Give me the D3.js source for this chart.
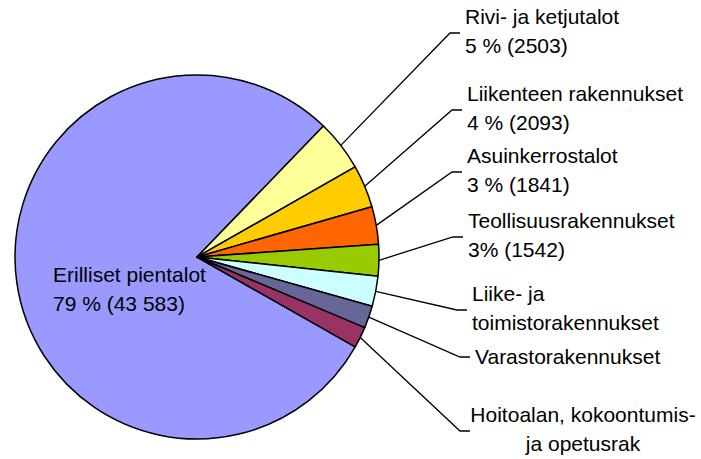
<!DOCTYPE html>
<html>
<head>
<meta charset="utf-8">
<script src="https://cdn.jsdelivr.net/npm/d3@7"></script>
<style>
    body { margin: 0; background: #fff; }
    svg text { font-family: "Liberation Sans", Arial, sans-serif; font-size: 21px; fill: #000; }
</style>
</head>
<body>
<svg id="chart" width="701" height="459"></svg>
<script>
const categories = [
    'Erilliset pientalot',
    'Rivi- ja ketjutalot',
    'Liikenteen rakennukset',
    'Asuinkerrostalot',
    'Teollisuusrakennukset',
    'Liike- ja toimistorakennukset',
    'Varastorakennukset',
    'Hoitoalan, kokoontumis- ja opetusrak'
];

// building counts (last three)
const counts = [43583, 2503, 2093, 1841, 1542, 1480, 1090, 1040];

const labelLines = [
    ['Erilliset pientalot', '79 % (43 583)'],
    ['Rivi- ja ketjutalot', '5 % (2503)'],
    ['Liikenteen rakennukset', '4 % (2093)'],
    ['Asuinkerrostalot', '3 % (1841)'],
    ['Teollisuusrakennukset', '3% (1542)'],
    ['Liike- ja', 'toimistorakennukset'],
    ['Varastorakennukset'],
    ['Hoitoalan, kokoontumis-', 'ja opetusrak']
];

const colors = ['#9999FF', '#FFFF99', '#FFCC00', '#FF6600', '#99CC00', '#CCFFFF', '#666699', '#993366'];

// label placement (x of text, y of leader elbow)
const labelPos = [
    null,
    { x: 465, y: 33 },
    { x: 467, y: 110 },
    { x: 467, y: 172 },
    { x: 468, y: 237 },
    { x: 472, y: 310 },
    { x: 475, y: 357 },
    { x: 475, y: 431, center: 583 }
];

const cx = 197, cy = 257, radius = 182;
const lineGap = 29;

const total = d3.sum(counts);
// small slices begin at ~44 degrees clockwise from 12 o'clock
const a0 = 44 * Math.PI / 180 - 2 * Math.PI * counts[0] / total;

const pie = d3.pie()
    .sort(null)
    .startAngle(a0)
    .endAngle(a0 + 2 * Math.PI)
    .value(d => d);

const arc = d3.arc().innerRadius(0).outerRadius(radius);
const edgeArc = d3.arc().innerRadius(radius).outerRadius(radius);

const svg = d3.select('#chart');
const g = svg.append('g').attr('transform', `translate(${cx},${cy})`);

const slices = pie(counts);

g.selectAll('path.slice')
    .data(slices)
    .enter().append('path')
    .attr('class', 'slice')
    .attr('d', arc)
    .style('fill', (d, i) => colors[i])
    .style('stroke', '#000')
    .style('stroke-width', 1.5)
    .style('stroke-linejoin', 'round');

// leader lines
slices.forEach((d, i) => {
    const p = labelPos[i];
    if (!p) return;
    const [sx, sy] = edgeArc.centroid(d);
    const pts = [
        [sx + cx, sy + cy],
        [p.x - 15, p.y],
        [p.x - 5, p.y]
    ];
    svg.append('path')
        .attr('d', d3.line()(pts))
        .style('fill', 'none')
        .style('stroke', '#000')
        .style('stroke-width', 1.3);
});

// labels
slices.forEach((d, i) => {
    const lines = labelLines[i];
    const p = labelPos[i];
    let x, y0, anchor = 'start';
    if (!p) {
        x = 53; y0 = 282;
    } else {
        x = p.center ?? p.x;
        if (p.center) anchor = 'middle';
        y0 = lines.length === 1 ? p.y + 7 : p.y - 9;
    }
    const t = svg.append('text')
        .attr('text-anchor', anchor);
    lines.forEach((ln, k) => {
        t.append('tspan')
            .attr('x', x)
            .attr('y', y0 + k * lineGap)
            .text(ln);
    });
});
</script>
</body>
</html>
